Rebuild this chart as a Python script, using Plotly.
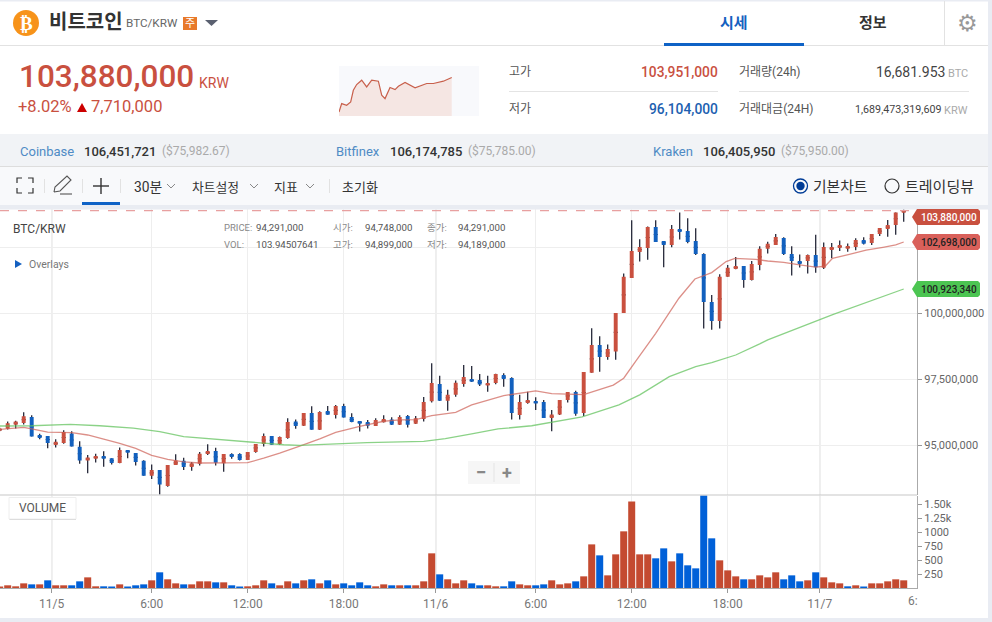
import plotly.graph_objects as go

W, H = 992, 622
# Prices in million KRW, one entry per 30-minute candle
open_m = [95.55,95.63,95.78,95.84,96.07,95.39,95.35,95.01,95.09,95.45,
 94.94,94.42,94.49,94.59,94.51,94.33,94.82,94.71,94.41,93.85,
 94.06,93.46,94.25,94.41,94.18,94.30,94.67,94.78,94.32,94.67,
 94.67,94.44,94.75,95.05,95.35,95.05,95.28,95.90,95.74,96.22,
 95.59,96.30,96.15,96.49,96.07,95.92,95.88,95.73,95.87,95.98,
 95.78,96.11,95.82,96.00,96.67,97.32,96.69,96.91,97.32,97.51,
 97.47,97.26,97.36,97.66,97.55,96.15,96.60,96.68,96.64,96.03,
 96.17,96.72,97.02,96.22,97.75,98.80,98.34,98.55,100.01,101.34,
 102.32,102.47,103.27,102.74,102.59,103.19,103.12,102.74,102.25,100.43,
 99.71,101.38,101.68,101.79,101.26,101.83,102.44,102.59,102.85,102.25,
 101.98,101.98,102.21,101.72,102.40,102.47,102.44,102.51,102.78,102.66,
 103.00,103.19,103.34,103.81]
high_m = [95.66,95.90,95.93,96.25,96.14,95.44,95.35,95.23,95.57,95.53,
 95.15,94.63,94.68,94.77,94.51,94.92,94.82,94.71,94.43,94.27,
 94.06,94.25,94.66,94.53,94.37,94.75,95.04,94.91,94.67,94.70,
 94.70,94.75,95.05,95.45,95.35,95.33,96.02,95.98,96.22,96.48,
 96.29,96.49,96.53,96.57,96.21,95.92,95.96,96.02,96.14,96.06,
 96.14,96.15,96.11,96.83,98.11,97.63,97.10,97.45,98.04,98.00,
 97.70,97.63,97.71,97.73,97.58,96.91,97.03,96.82,96.72,96.34,
 96.72,97.02,97.07,97.78,99.43,99.13,98.82,100.01,101.51,103.52,
 102.80,103.29,103.52,102.74,103.34,103.82,103.60,103.22,102.27,100.69,
 101.48,101.83,102.13,101.79,101.98,102.54,102.71,103.00,102.88,102.54,
 102.23,102.23,102.97,102.68,102.66,102.76,102.64,102.84,102.88,103.00,
 103.23,103.53,103.82,103.93]
low_m = [95.53,95.60,95.64,95.79,95.33,95.23,94.89,94.92,95.06,94.95,
 94.30,93.94,94.35,94.19,94.27,94.32,94.51,94.23,93.85,93.72,
 93.14,93.43,94.25,94.06,94.04,94.23,94.63,94.23,94.00,94.49,
 94.42,94.44,94.72,94.95,95.02,95.02,95.25,95.63,95.73,95.59,
 95.58,96.16,96.01,96.05,95.87,95.52,95.64,95.73,95.86,95.77,
 95.77,95.67,95.81,95.90,96.62,96.68,96.31,96.84,97.22,97.40,
 97.25,97.03,97.31,97.22,95.98,95.98,96.57,96.34,96.03,95.53,
 96.15,96.62,96.12,96.11,97.75,97.79,98.24,98.24,100.01,101.34,
 101.96,102.03,102.70,101.74,102.50,102.79,102.65,102.21,99.42,99.38,
 99.42,101.38,101.67,100.97,101.24,101.63,102.26,102.59,102.21,101.43,
 101.73,101.51,101.54,101.68,102.08,102.36,102.33,102.39,102.61,102.59,
 102.93,102.90,102.97,103.47]
close_m = [95.64,95.83,95.90,96.10,95.33,95.28,95.09,95.13,95.50,94.95,
 94.42,94.54,94.59,94.49,94.33,94.82,94.72,94.37,93.85,94.06,
 93.51,94.25,94.42,94.18,94.32,94.68,94.78,94.34,94.67,94.56,
 94.44,94.75,95.05,95.35,95.02,95.31,95.88,95.73,96.22,95.59,
 96.26,96.16,96.49,96.05,95.88,95.82,95.74,95.96,96.00,95.78,
 96.07,95.78,96.02,96.64,97.36,96.69,96.91,97.37,97.59,97.41,
 97.30,97.36,97.70,97.51,96.22,96.64,96.72,96.58,96.03,96.17,
 96.72,97.02,96.19,97.78,98.80,98.34,98.65,100.01,101.38,102.36,
 102.51,103.27,102.70,102.59,103.19,103.08,102.70,102.25,100.43,99.71,
 101.38,101.72,101.79,101.26,101.87,102.44,102.63,102.89,102.25,101.98,
 101.87,102.21,101.74,102.51,102.51,102.59,102.55,102.78,102.63,103.00,
 103.23,103.34,103.82,103.91]
volume = [18,48,30,83,65,65,137,48,48,48,
 119,190,30,30,12,65,12,48,65,137,
 280,155,83,65,65,119,119,101,101,48,
 12,30,48,137,83,48,119,83,137,155,
 83,137,65,83,48,101,48,30,65,48,
 48,48,48,119,619,244,155,83,137,83,
 48,48,30,30,119,65,48,48,65,137,
 65,83,119,208,779,583,226,601,1012,1547,
 601,601,530,708,476,619,405,351,1750,887,
 494,315,208,155,155,226,190,280,155,226,
 119,137,280,190,101,83,30,48,12,83,
 83,119,155,137]
vol_side = ("RRRRBRBRRB" "BRRBBRBBBR" "BRRBRRRBRB" "BRRRBRRBRB" "RBRBBBBRRB"
            "RBRRRBRRRB" "BRRBBRRBBR" "RRBRRBRRRR" "RRBBRBBBBB" "RRRBRRRRBB"
            "BRBRRRBRBR" "RRRR")
candle_idx = list(range(len(close_m)))

ma_short_idx = [0,3,4,6,9,11,13,15,17,19,21,23,25,28,31,33,35,37.5,40,42,45,48,50,52,54,57,59,63,65,67,69,71,73,
                76.7,78,79.6,82,84.9,86.9,89,90.8,91.9,94.5,96,98,100,102,103.2,104.1,106.2,108.3,110.4,112,113]
ma_short = [95.60,95.68,95.62,95.50,95.48,95.39,95.23,95.07,94.88,94.62,94.47,94.37,94.33,94.33,94.34,94.51,94.70,94.97,95.24,95.49,95.72,95.91,95.96,95.97,96.12,96.25,96.53,96.88,96.97,97.06,96.96,96.94,96.92,
            97.28,97.54,98.23,99.24,100.57,101.30,101.54,101.96,102.08,102.04,101.98,101.93,101.83,101.75,101.79,102.08,102.23,102.39,102.50,102.59,102.70]
ma_long_idx = [0,4,8.8,12.5,16.7,20,23,27,31,35.5,37.5,41.7,45.9,53,55.7,59,62.3,66.5,72.8,77.4,80,83.7,87,89,92,95,96,104.2,113]
ma_long = [95.73,95.74,95.79,95.74,95.65,95.52,95.33,95.23,95.11,95.02,95.00,95.06,95.10,95.15,95.25,95.43,95.62,95.74,96.08,96.53,96.91,97.60,97.98,98.13,98.42,98.84,98.99,99.96,100.92]

spark_hours = [0,0.57,1.63,2.49,3.05,3.76,4.83,5.89,6.96,8.38,9.09,9.8,10.86,11.93,12.64,14.06,16.19,17.61,18.67,20.09,22.22,24]
spark_price = [96.10,98.0,97.62,98.37,101.02,102.31,103.29,101.78,103.29,103.07,99.89,99.13,101.63,101.17,101.93,102.76,101.55,102.16,102.54,102.54,103.07,103.9]

grid_ticks = [6.5,19,31,43,54.5,67,79,91,102.5]
grid_labels = ["11/5","6:00","12:00","18:00","11/6","6:00","12:00","18:00","11/7"]
date_ticks = [6.5,54.5,102.5]
price_ticks = [95,97.5,100,102.5]
price_labels = ["95,000,000","97,500,000","100,000,000",""]
vol_ticks = [250,500,750,1000,1250,1500]
vol_labels = ["250","500","750","1000","1.25k","1.50k"]

RED, BLUE = "#C9503F", "#1260BE"
VRED, VBLUE = "#C44A30", "#0060D8"
FONT = "Roboto, 'Noto Sans CJK KR', sans-serif"

def px(x): return x / W
def py(y): return 1 - y / H

shapes, ann = [], []
def rect(x0, y0, x1, y1, fill, line=None, layer="above", lw=1):
    shapes.append(dict(type="rect", xref="paper", yref="paper", x0=px(x0), x1=px(x1), y0=py(y0), y1=py(y1),
                       fillcolor=fill, line=dict(color=line or fill, width=lw if line else 0), layer=layer))
def line(x0, y0, x1, y1, color, w=1, dash=None, layer="above"):
    shapes.append(dict(type="line", xref="paper", yref="paper", x0=px(x0), x1=px(x1), y0=py(y0), y1=py(y1),
                       line=dict(color=color, width=w, dash=dash), layer=layer))
def poly(pts, fill=None, color=None, w=1, close=True):
    d = "M" + " L".join(f"{px(x):.5f},{py(y):.5f}" for x, y in pts) + (" Z" if close else "")
    shapes.append(dict(type="path", xref="paper", yref="paper", path=d, fillcolor=fill or "rgba(0,0,0,0)",
                       line=dict(color=color or "rgba(0,0,0,0)", width=w if color else 0), layer="above"))
def circle(cx, cy, r, fill=None, color=None, w=1):
    shapes.append(dict(type="circle", xref="paper", yref="paper", x0=px(cx-r), x1=px(cx+r), y0=py(cy+r), y1=py(cy-r),
                       fillcolor=fill or "rgba(0,0,0,0)", line=dict(color=color or "rgba(0,0,0,0)", width=w if color else 0), layer="above"))
def text(x, y, s, size, color, anchor="left", weight=400, family=FONT):
    nudge = {"left": -1, "right": 1, "center": 0}[anchor]
    ann.append(dict(xref="paper", yref="paper", x=px(x + nudge), y=py(y), text=s, showarrow=False, xanchor=anchor, yanchor="middle",
                    borderpad=0, font=dict(size=size, color=color, family=family, weight=weight)))

# Page furniture
rect(0, 618, W, H, "#E9ECF3", layer="below")
rect(988, 0, W, H, "#E9ECF3", layer="below")
rect(0, 0, W, 1.5, "#E9ECF3", layer="below")
line(0, 45.5, 988, 45.5, "#E2E2E2")
rect(664, 43, 804, 46, "#0E62C6")
line(944.5, 1, 944.5, 45, "#E2E2E2")
circle(26, 23, 13, fill="#F7931A")
text(26, 23, "₿", 19, "#FFFFFF", "center", 700, "DejaVu Sans")
text(49, 22, "비트코인", 20, "#333333", weight=700)
text(126, 23, "BTC/KRW", 11.7, "#666666")
rect(183, 17, 197, 30, "#E8792A")
text(190, 23.5, "주", 11, "#FFFFFF", "center")
poly([(205, 20), (218, 20), (211.5, 26)], fill="#5A6070")
text(734, 23, "시세", 15, "#1460C0", "center", 700)
text(873, 23, "정보", 15, "#333333", "center", 700)
text(967, 23, "⚙", 23, "#999999", "center", family="DejaVu Sans")

text(19, 77, "103,880,000", 31.5, RED, weight=500)
text(199, 83, "KRW", 14, RED)
text(18, 107, "+8.02%", 16.5, RED)
poly([(77, 112), (87, 112), (82, 103)], fill="#CC0000")
text(91, 107, "7,710,000", 16.5, RED)

rect(339, 66, 479, 116, "#F8F9FC", layer="below")
for y_ in (91.5,):
    line(509, y_, 718, y_, "#E4E4E4")
    line(739, y_, 969, y_, "#E4E4E4")
text(509, 72, "고가", 12, "#555555")
text(718, 72, "103,951,000", 13.8, RED, "right", 500)
text(509, 109, "저가", 12, "#555555")
text(718, 109, "96,104,000", 13.8, "#2060B0", "right", 500)
text(739, 72, "거래량(24h)", 12, "#555555")
text(945, 72, "16,681.953", 14, "#444444", "right")
text(968, 73, "BTC", 11, "#AAAAAA", "right")
text(739, 109, "거래대금(24H)", 12, "#555555")
text(942, 109, "1,689,473,319,609", 10.7, "#444444", "right")
text(968, 110, "KRW", 11, "#AAAAAA", "right")

rect(0, 134, 988, 166.5, "#F1F3F6")
line(0, 166.5, 988, 166.5, "#DDDDDD")
for x0, name, x1, val, x2, usd in [(20, "Coinbase", 84, "106,451,721", 162, "($75,982.67)"),
                                   (336, "Bitfinex", 390, "106,174,785", 468, "($75,785.00)"),
                                   (653, "Kraken", 703, "106,405,950", 781, "($75,950.00)")]:
    text(x0, 151, name, 13, "#4F8BC5")
    text(x1, 151, val, 13, "#333333", weight=500)
    text(x2, 151, usd, 12, "#AAAAAA")

rect(0, 167, 988, 205, "#F8F9FB")
rect(0, 205, 988, 209.5, "#E9ECF2")
rect(82, 202, 120, 205, "#0E62C6")
for a, b, c, d, e, f in [(17, 183, 17, 178, 22, 178), (28, 178, 33, 178, 33, 183),
                         (17, 188, 17, 193, 22, 193), (28, 193, 33, 193, 33, 188)]:
    poly([(a, b), (c, d), (e, f)], color="#333333", w=1.2, close=False)
poly([(54, 192), (55, 187), (67, 176), (71, 180), (60, 191), (54, 192)], color="#555555", w=1.1, close=False)
line(60, 194, 72, 194, "#555555", 1.1)
line(93, 186, 109, 186, "#333333", 1.4)
line(101, 178, 101, 194, "#333333", 1.4)
for x_ in (44.5, 82.5, 120.5, 329.5):
    line(x_, 179, x_, 193, "#E2E2E2")
text(134, 187, "30분", 13.8, "#333333")
text(192, 187, "차트설정", 12.8, "#333333")
text(274, 187, "지표", 13, "#333333")
text(342, 187, "초기화", 13, "#333333")
for x_ in (167, 250, 306):
    poly([(x_, 184), (x_+4, 188), (x_+8, 184)], color="#888888", w=1, close=False)
circle(800.5, 186, 7, color="#003C96", w=1.3)
circle(800.5, 186, 4.2, fill="#003C96")
text(813, 186.5, "기본차트", 14.8, "#333333")
circle(892, 186, 7, color="#333333", w=1.2)
text(905, 186.5, "트레이딩뷰", 15, "#333333")

# Chart overlays
text(13, 229, "BTC/KRW", 12, "#444444")
for y_, a, b, c, d, e, f in [(227, "PRICE:", "94,291,000", "시가:", "94,748,000", "종가:", "94,291,000"),
                             (244, "VOL:", "103.94507641", "고가:", "94,899,000", "저가:", "94,189,000")]:
    text(224, y_, a, 9.5, "#888888")
    text(256, y_, b, 9.7, "#555555")
    text(333, y_, c, 9.5, "#888888")
    text(365, y_, d, 9.7, "#555555")
    text(427, y_, e, 9.5, "#888888")
    text(458, y_, f, 9.7, "#555555")
poly([(15, 260), (15, 268), (22, 264)], fill="#1460C0")
text(29, 264, "Overlays", 10.5, "#777777")
line(0, 210.7, 917, 210.7, "#E8A0A0", 1.2, "dash")
line(0, 495, 917, 495, "#C8C8C8", 1.2)
rect(468, 461, 520, 484, "#F6F6F6")
line(494, 463, 494, 482, "#E4E4E4")
text(481, 472, "−", 19, "#888888", "center", 700)
text(507, 472, "+", 18, "#888888", "center", 700)
rect(9, 497.5, 76, 519, "#FFFFFF", line="#EEEEEE")
line(9.5, 519.5, 76, 519.5, "#DDDDDD")
text(42.5, 507.5, "VOLUME", 12, "#555555", "center")
text(908, 601, "6:", 12, "#777777")

def flag(y, s, fill, color):
    poly([(912, y), (917, y-8), (978, y-8), (980, y-6), (980, y+6), (978, y+8), (917, y+8)], fill=fill)
    text(977, y+0.5, s, 10, color, "right", 500)
flag(217, "103,880,000", "#C9503F", "#FFFFFF")
flag(242, "102,698,000", "#D9605A", "#222222")
flag(289, "100,923,340", "#4CC552", "#222222")

Y_RANGE = [93.117, 103.95]
V_RANGE = [0, 1652]
for t in date_ticks:
    shapes.append(dict(type="line", xref="x", yref="y", x0=t, x1=t, y0=Y_RANGE[0], y1=Y_RANGE[1],
                       line=dict(color="#CCCCCC", width=1.2), layer="below"))
    shapes.append(dict(type="line", xref="x2", yref="y2", x0=t, x1=t, y0=V_RANGE[0], y1=V_RANGE[1],
                       line=dict(color="#CCCCCC", width=1.2), layer="below"))

mid = [(o + c) / 2 for o, c in zip(open_m, close_m)]
fig = go.Figure()
fig.add_trace(go.Candlestick(x=candle_idx, open=mid, high=high_m, low=low_m, close=mid, xaxis="x", yaxis="y",
                             increasing=dict(line=dict(color="#15182A", width=1.2), fillcolor="#15182A"),
                             decreasing=dict(line=dict(color="#15182A", width=1.2), fillcolor="#15182A"),
                             showlegend=False, hoverinfo="skip"))
fig.add_trace(go.Candlestick(x=candle_idx, open=open_m, high=high_m, low=low_m, close=close_m, xaxis="x", yaxis="y",
                             increasing=dict(line=dict(color=RED, width=0), fillcolor=RED),
                             decreasing=dict(line=dict(color=BLUE, width=0), fillcolor=BLUE),
                             showlegend=False))
fig.add_trace(go.Scatter(x=ma_short_idx, y=ma_short, mode="lines", xaxis="x", yaxis="y", showlegend=False,
                         line=dict(color="rgba(205,95,85,0.7)", width=1.3)))
fig.add_trace(go.Scatter(x=ma_long_idx, y=ma_long, mode="lines", xaxis="x", yaxis="y", showlegend=False,
                         line=dict(color="rgba(100,195,95,0.75)", width=1.3)))
fig.add_trace(go.Bar(x=candle_idx, y=volume, xaxis="x2", yaxis="y2", width=0.875, showlegend=False,
                     marker=dict(color=[VRED if s == "R" else VBLUE for s in vol_side], line=dict(width=0))))
fig.add_trace(go.Scatter(x=spark_hours, y=spark_price, mode="lines", xaxis="x3", yaxis="y3", showlegend=False,
                         fill="tozeroy", fillcolor="#F5E6E3", line=dict(color="#C8604C", width=1.2)))

X_RANGE = [0.0375, 114.66]
axis_font = dict(size=11, color="#666666", family=FONT)
fig.update_layout(
    width=W, height=H, margin=dict(l=0, r=0, t=0, b=0), autosize=False,
    paper_bgcolor="#FFFFFF", plot_bgcolor="rgba(0,0,0,0)", showlegend=False, boxgap=0.3,
    font=dict(family=FONT), shapes=shapes, annotations=ann, hovermode=False,
    xaxis=dict(domain=[0, px(917)], range=X_RANGE, anchor="y", tickvals=grid_ticks, showticklabels=False, ticks="",
               showgrid=True, gridcolor="#EEEEEE", zeroline=False, rangeslider=dict(visible=False), fixedrange=True),
    yaxis=dict(domain=[py(495), py(209)], range=Y_RANGE, anchor="x", side="right", tickvals=price_ticks, ticktext=price_labels,
               tickfont=axis_font, ticks="outside", ticklen=4, tickcolor="#999999", showline=True, linecolor="#AAAAAA", linewidth=1.2,
               showgrid=True, gridcolor="#EEEEEE", zeroline=False, fixedrange=True),
    xaxis2=dict(domain=[0, px(917)], range=X_RANGE, anchor="y2", tickvals=grid_ticks, ticktext=grid_labels,
                tickfont=dict(size=12, color="#777777", family=FONT), ticks="outside", ticklen=4, tickcolor="#999999", tickangle=0,
                showline=True, linecolor="#AAAAAA", linewidth=1.2, showgrid=True, gridcolor="#EEEEEE", zeroline=False, fixedrange=True),
    yaxis2=dict(domain=[py(588), py(495.5)], range=V_RANGE, anchor="x2", side="right", tickvals=vol_ticks, ticktext=vol_labels,
                tickfont=dict(size=11, color="#666666", family=FONT), ticks="outside", ticklen=4, tickcolor="#999999",
                showline=True, linecolor="#AAAAAA", linewidth=1.2, showgrid=False, zeroline=False, fixedrange=True),
    xaxis3=dict(domain=[px(339), px(479)], range=[0, 29.8], anchor="y3", visible=False, fixedrange=True),
    yaxis3=dict(domain=[py(116), py(66)], range=[95.2, 106.5], anchor="x3", visible=False, fixedrange=True),
)
fig.write_html("out.html", config={"displayModeBar": False},
               post_script="document.body.style.margin='0';document.body.style.overflow='hidden';")
